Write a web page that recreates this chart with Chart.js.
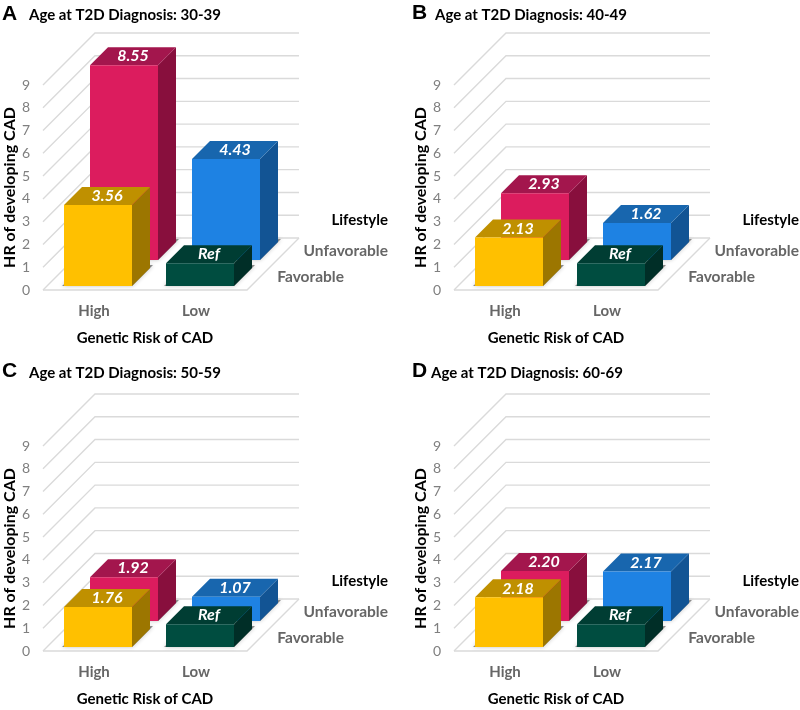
<!DOCTYPE html>
<html>
<head>
<meta charset="utf-8">
<title>HR of developing CAD</title>
<style>
  html, body { margin: 0; padding: 0; background: #fff; }
  #page { position: relative; width: 800px; height: 710px; overflow: hidden; }
  canvas { position: absolute; }
</style>
</head>
<body>
<div id="page"></div>
<script src="https://cdn.jsdelivr.net/npm/chart.js@4/dist/chart.umd.min.js"></script>
<script>
const geneticRisk = ['High', 'Low'];
const lifestyleRows = ['Favorable', 'Unfavorable'];
const hrTicks = [0, 1, 2, 3, 4, 5, 6, 7, 8, 9];

const panelLetters = ['A', 'B', 'C', 'D'];
const panelTitles = [
    'Age at T2D Diagnosis: 30-39',
    'Age at T2D Diagnosis: 40-49',
    'Age at T2D Diagnosis: 50-59',
    'Age at T2D Diagnosis: 60-69'
];

// HR per genetic risk group, one pair per panel
const favorableHR = [[3.56, 1], [2.13, 1], [1.76, 1], [2.18, 1]];
const unfavorableHR = [[8.55, 4.43], [2.93, 1.62], [1.92, 1.07], [2.20, 2.17]];
const favorableLabels = [['3.56', 'Ref'], ['2.13', 'Ref'], ['1.76', 'Ref'], ['2.18', 'Ref']];
const unfavorableLabels = [['8.55', '4.43'], ['2.93', '1.62'], ['1.92', '1.07'], ['2.20', '2.17']];

// where each panel sits on the page and its letter/title placement
const panelLayout = [
    { left: 0, top: 0, letterX: 2, letterY: 14, titleX: 29, titleY: 15 },
    { left: 411, top: 0, letterX: 1, letterY: 13, titleX: 24, titleY: 15 },
    { left: 0, top: 361, letterX: 2, letterY: 10, titleX: 29, titleY: 12 },
    { left: 411, top: 361, letterX: 1, letterY: 10, titleX: 20, titleY: 12 }
];

const CANVAS_W = 389;
const CANVAS_H = 349;
const DEPTH = 52;        // floor depth, drawn at 45 degrees
const BAR_DEPTH = 18;
const FONT = 'Lato, "Open Sans", sans-serif';

// face, side, top
const favorableColors = [['#FFC000', '#9C7600', '#BF9000'], ['#004D40', '#002E27', '#003D33']];
const unfavorableColors = [['#DC1C5E', '#880F3D', '#A3164D'], ['#1E82E3', '#125494', '#1866AE']];

// depth offset of a row's front face
function rowOffset(rowIndex) {
    const rowDepth = DEPTH / lifestyleRows.length;
    return rowDepth * rowIndex + (rowDepth - BAR_DEPTH) / 2;
}

function polygon(ctx, pts, fill) {
    ctx.beginPath();
    pts.forEach((p, i) => i ? ctx.lineTo(p[0], p[1]) : ctx.moveTo(p[0], p[1]));
    ctx.closePath();
    ctx.fillStyle = fill;
    ctx.fill();
}

// back wall, side wall and floor lines
const wallPlugin = {
    id: 'walls',
    beforeDatasetsDraw(chart) {
        const { ctx, chartArea, scales } = chart;
        ctx.save();
        ctx.strokeStyle = '#DADADA';
        ctx.lineWidth = 1.4;
        hrTicks.forEach(t => {
            const y = scales.y.getPixelForValue(t);
            ctx.beginPath();
            ctx.moveTo(chartArea.left, y);
            ctx.lineTo(chartArea.left + DEPTH, y - DEPTH);
            ctx.lineTo(chartArea.right + DEPTH, y - DEPTH);
            ctx.stroke();
        });
        const y0 = scales.y.getPixelForValue(0);
        ctx.beginPath();
        ctx.moveTo(chartArea.left, y0);
        ctx.lineTo(chartArea.right, y0);
        ctx.lineTo(chartArea.right + DEPTH, y0 - DEPTH);
        ctx.stroke();
        ctx.restore();
    }
};

// each dataset is a row: push it back, let Chart.js draw the front faces on top of the box
const boxPlugin = {
    id: 'box3d',
    beforeDatasetDraw(chart, args) {
        const ctx = chart.ctx;
        const offset = rowOffset(args.index);
        const colors = chart.data.datasets[args.index].boxColors;
        ctx.save();
        ctx.translate(offset, -offset);
        args.meta.data.forEach((bar, i) => {
            const l = bar.x - bar.width / 2;
            const r = bar.x + bar.width / 2;
            const d = BAR_DEPTH;
            // soft shadow on the floor
            ctx.save();
            ctx.shadowColor = 'rgba(0,0,0,0.55)';
            ctx.shadowBlur = 4;
            polygon(ctx, [[l - 2, bar.base], [r, bar.base], [r + d + 3, bar.base - d - 3], [l + d, bar.base - d]], 'rgba(0,0,0,0.45)');
            ctx.restore();
            polygon(ctx, [[r, bar.y], [r + d, bar.y - d], [r + d, bar.base - d], [r, bar.base]], colors[i][1]);
            polygon(ctx, [[l, bar.y], [l + d, bar.y - d], [r + d, bar.y - d], [r, bar.y]], colors[i][2]);
        });
    },
    afterDatasetDraw(chart, args) {
        const ctx = chart.ctx;
        const labels = chart.data.datasets[args.index].boxLabels;
        ctx.textAlign = 'center';
        ctx.textBaseline = 'middle';
        ctx.fillStyle = '#fff';
        ctx.font = 'italic bold 16px ' + FONT;
        args.meta.data.forEach((bar, i) => {
            ctx.fillText(labels[i], bar.x + BAR_DEPTH / 2, bar.y - BAR_DEPTH / 2);
        });
        ctx.restore();
    }
};

// panel letter, title, y axis title and the row legend next to the floor
const textPlugin = {
    id: 'panelText',
    afterDraw(chart, args, opts) {
        const { ctx, chartArea } = chart;
        const y0 = chart.scales.y.getPixelForValue(0);
        const yTop = chart.scales.y.getPixelForValue(hrTicks[hrTicks.length - 1]);
        ctx.save();
        ctx.textBaseline = 'middle';
        ctx.textAlign = 'left';
        ctx.fillStyle = '#000';
        ctx.font = 'bold 21px "Liberation Sans", Arial, sans-serif';
        ctx.fillText(opts.letter, opts.layout.letterX, opts.layout.letterY);
        ctx.font = 'bold 15px ' + FONT;
        ctx.fillText(opts.title, opts.layout.titleX, opts.layout.titleY);

        ctx.textAlign = 'right';
        ctx.fillText('Lifestyle', chartArea.right + 141, y0 - 70);
        ctx.fillStyle = '#666';
        ctx.font = 'bold 15.5px ' + FONT;
        lifestyleRows.forEach((row, i) => {
            ctx.fillText(row, chartArea.right + 97 + 44 * i, y0 - 13 - 26 * i);
        });

        ctx.fillStyle = '#000';
        ctx.font = 'bold 16px ' + FONT;
        ctx.textAlign = 'center';
        ctx.translate(9.5, (y0 + yTop) / 2);
        ctx.rotate(-Math.PI / 2);
        ctx.fillText('HR of developing CAD', 0, 0);
        ctx.restore();
    }
};

function makePanel(p) {
    const layout = panelLayout[p];
    const canvas = document.createElement('canvas');
    canvas.width = CANVAS_W;
    canvas.height = CANVAS_H;
    canvas.style.left = layout.left + 'px';
    canvas.style.top = layout.top + 'px';
    document.getElementById('page').appendChild(canvas);

    new Chart(canvas.getContext('2d'), {
        type: 'bar',
        data: {
            labels: geneticRisk,
            datasets: [
                {
                    label: lifestyleRows[0],
                    data: favorableHR[p],
                    boxColors: favorableColors,
                    boxLabels: favorableLabels[p],
                    backgroundColor: favorableColors.map(c => c[0])
                },
                {
                    label: lifestyleRows[1],
                    data: unfavorableHR[p],
                    boxColors: unfavorableColors,
                    boxLabels: unfavorableLabels[p],
                    backgroundColor: unfavorableColors.map(c => c[0])
                }
            ]
        },
        options: {
            responsive: false,
            animation: false,
            devicePixelRatio: 1,
            layout: { padding: { left: 0, top: 85, right: CANVAS_W - 247, bottom: 0 } },
            datasets: { bar: { grouped: false, clip: false, categoryPercentage: 1, barPercentage: 2 / 3 } },
            plugins: {
                legend: { display: false },
                tooltip: { enabled: false },
                panelText: { letter: panelLetters[p], title: panelTitles[p], layout: layout }
            },
            scales: {
                x: {
                    grid: { display: false, drawTicks: false },
                    border: { display: false },
                    ticks: { padding: 12, color: '#666', font: { family: FONT, size: 15, weight: 'bold' }, maxRotation: 0 },
                    title: {
                        display: true,
                        text: 'Genetic Risk of CAD',
                        color: '#000',
                        font: { family: FONT, size: 15, weight: 'bold' },
                        padding: { top: 0, bottom: 1.5 }
                    },
                    afterFit: s => { s.height = CANVAS_H - 290; }
                },
                y: {
                    min: 0,
                    max: 9,
                    grid: { display: false, drawTicks: false },
                    border: { display: false },
                    afterBuildTicks: s => { s.ticks = hrTicks.map(v => ({ value: v })); },
                    ticks: { padding: 13, color: '#7F7F7F', font: { family: FONT, size: 14 } },
                    afterFit: s => { s.width = 43; }
                }
            }
        },
        plugins: [wallPlugin, boxPlugin, textPlugin]
    });
}

panelLetters.forEach((letter, p) => makePanel(p));
</script>
</body>
</html>
